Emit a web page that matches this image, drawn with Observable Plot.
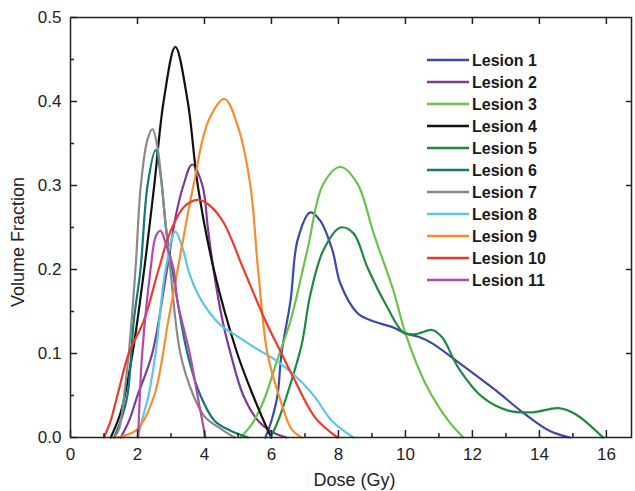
<!DOCTYPE html>
<html><head><meta charset="utf-8">
<script src="https://cdn.jsdelivr.net/npm/d3@7"></script>
<script src="https://cdn.jsdelivr.net/npm/@observablehq/plot@0.6"></script>
<style>
body{margin:0;background:#fff}
#wrap{position:relative;width:635px;height:491px;font-family:"Liberation Sans",Arial,sans-serif}
#wrap svg{position:absolute;left:0;top:0}
</style>
</head><body><div id="wrap"></div>
<script>
const lesionNames = ["Lesion 1","Lesion 2","Lesion 3","Lesion 4","Lesion 5","Lesion 6","Lesion 7","Lesion 8","Lesion 9","Lesion 10","Lesion 11"];
const lesionColors = ["#3b4aa8","#7e3a98","#6cc24a","#111111","#1f8a3e","#127878","#8a8a8a","#5cc6e4","#f68d2e","#ec3b2b","#b34aa9"];

const lesion1 = [[5.82,0],[6.0,0.02],[6.18,0.05],[6.3,0.1],[6.57,0.163],[6.78,0.235],[7.16,0.268],[7.46,0.258],[7.82,0.223],[8.06,0.183],[8.57,0.148],[9.0,0.139],[9.64,0.131],[10.0,0.124],[10.45,0.119],[10.8,0.112],[11.7,0.086],[12.7,0.056],[13.5,0.03],[14.3,0.008],[14.9,0]];
const lesion2 = [[1.5,0],[1.75,0.02],[2.0,0.05],[2.44,0.1],[2.88,0.2],[3.15,0.265],[3.37,0.3],[3.63,0.325],[3.94,0.3],[4.1,0.25],[4.27,0.2],[4.54,0.139],[4.78,0.1],[5.16,0.05],[5.6,0.02],[6.0,0.007],[6.45,0]];
const lesion3 = [[5.07,0],[5.4,0.015],[5.77,0.044],[6.17,0.092],[6.57,0.139],[7.07,0.223],[7.55,0.302],[8.06,0.322],[8.57,0.302],[9.05,0.243],[9.64,0.175],[10.0,0.124],[10.6,0.064],[11.28,0.02],[11.73,0]];
const lesion4 = [[1.2,0],[1.5,0.03],[1.85,0.1],[2.2,0.2],[2.5,0.3],[2.78,0.4],[3.13,0.465],[3.5,0.4],[3.8,0.3],[4.28,0.2],[4.98,0.1],[5.45,0.05],[5.9,0.008],[6.0,0]];
const lesion5 = [[5.97,0],[6.2,0.02],[6.57,0.064],[6.9,0.11],[7.16,0.17],[7.55,0.223],[8.06,0.25],[8.45,0.243],[8.87,0.202],[9.46,0.155],[9.94,0.125],[10.3,0.123],[10.8,0.128],[11.1,0.119],[11.58,0.083],[12.3,0.048],[13.07,0.032],[13.8,0.03],[14.57,0.035],[15.07,0.028],[15.9,0]];
const lesion6 = [[1.3,0],[1.5,0.02],[1.7,0.05],[1.89,0.139],[2.09,0.2],[2.3,0.3],[2.54,0.342],[2.7,0.31],[2.85,0.25],[3.04,0.2],[3.49,0.1],[3.88,0.05],[4.3,0.02],[4.78,0.008],[5.3,0]];
const lesion7 = [[1.3,0],[1.45,0.01],[1.6,0.05],[1.74,0.1],[1.94,0.2],[2.1,0.3],[2.3,0.355],[2.45,0.367],[2.6,0.345],[2.75,0.29],[2.98,0.2],[3.28,0.1],[3.67,0.05],[4.0,0.025],[4.5,0.01],[4.9,0]];
const lesion8 = [[2.0,0],[2.2,0.03],[2.33,0.05],[2.54,0.1],[2.84,0.2],[3.13,0.245],[3.35,0.225],[3.55,0.195],[3.88,0.165],[4.45,0.135],[5.0,0.12],[5.5,0.107],[6.2,0.09],[6.9,0.066],[7.3,0.048],[7.8,0.02],[8.45,0]];
const lesion9 = [[1.4,0],[2.0,0.01],[2.5,0.05],[2.92,0.139],[3.2,0.2],[3.67,0.3],[4.12,0.377],[4.6,0.403],[5.0,0.37],[5.37,0.3],[5.6,0.2],[5.88,0.1],[6.27,0.044],[6.6,0.01],[6.9,0]];
const lesion10 = [[1.0,0],[1.2,0.02],[1.4,0.05],[1.74,0.1],[2.19,0.139],[2.63,0.2],[2.99,0.246],[3.4,0.275],[3.79,0.283],[4.1,0.278],[4.54,0.258],[5.17,0.2],[5.82,0.139],[6.3,0.1],[6.66,0.071],[7.3,0.024],[7.97,0]];
const lesion11 = [[2.02,0],[2.07,0.05],[2.14,0.1],[2.39,0.2],[2.55,0.24],[2.69,0.246],[2.85,0.23],[3.08,0.2],[3.19,0.163],[3.56,0.1],[3.82,0.044],[4.03,0]];

const lesionSeries = [lesion1,lesion2,lesion3,lesion4,lesion5,lesion6,lesion7,lesion8,lesion9,lesion10,lesion11];

const xMajorTicks = [0,2,4,6,8,10,12,14,16];
const xMinorTicks = [1,3,5,7,9,11,13,15];
const yMajorTicks = [0,0.1,0.2,0.3,0.4,0.5];
const yMinorTicks = [0.05,0.15,0.25,0.35,0.45];
const xLabel = "Dose (Gy)";
const yLabel = "Volume Fraction";

const rows = lesionSeries.flatMap((s, i) => s.map(([dose, frac]) => ({lesion: lesionNames[i], dose, frac})));

const W = 635, H = 491, mL = 70, mR = 4, mT = 17, mB = 54;
const pw = W - mL - mR, ph = H - mT - mB;
const ink = "#222";
const font = '"Liberation Sans", Arial, sans-serif';

const chart = Plot.plot({
  width: W, height: H,
  marginLeft: mL, marginRight: mR, marginTop: mT, marginBottom: mB,
  x: {domain: [0, 16.75]},
  y: {domain: [0, 0.5]},
  color: {domain: lesionNames, range: lesionColors},
  style: {fontFamily: font, fontSize: "17px", color: ink, background: "#fff"},
  marks: [
    Plot.line(rows, {x: "dose", y: "frac", z: "lesion", stroke: "lesion", strokeWidth: 2.2, curve: "catmull-rom"}),
    Plot.frame({stroke: ink, strokeWidth: 1.5}),
    Plot.tickX(xMajorTicks, {x: d => d, insetTop: ph - 7, stroke: ink, strokeWidth: 1.5}),
    Plot.tickX(xMinorTicks, {x: d => d, insetTop: ph - 4, stroke: ink, strokeWidth: 1.5}),
    Plot.tickX(xMajorTicks.slice(1), {x: d => d, insetBottom: ph - 7, stroke: ink, strokeWidth: 1.5}),
    Plot.tickY(yMajorTicks, {y: d => d, insetRight: pw - 7, stroke: ink, strokeWidth: 1.5}),
    Plot.tickY(yMinorTicks, {y: d => d, insetRight: pw - 4, stroke: ink, strokeWidth: 1.5}),
    Plot.tickY(yMajorTicks.slice(1, -1), {y: d => d, insetLeft: pw - 5, stroke: ink, strokeWidth: 1.5}),
    Plot.axisX({ticks: xMajorTicks, tickSize: 0, tickPadding: 10, label: null, fontSize: 17, tickFormat: d => String(d)}),
    Plot.axisY({ticks: yMajorTicks, tickSize: 0, tickPadding: 9, label: null, fontSize: 17, tickFormat: d3.format(".1f")})
  ]
});
const wrap = document.getElementById("wrap");
wrap.appendChild(chart);

// overlay: axis titles and legend
const ov = d3.select(wrap).append("svg").attr("width", W).attr("height", H)
  .style("pointer-events", "none").attr("font-family", font);
ov.append("text").attr("x", mL + pw / 2 + 4).attr("y", 486)
  .attr("text-anchor", "middle").attr("font-size", 18).attr("fill", ink).text(xLabel);
ov.append("text").attr("transform", "translate(24,242) rotate(-90)")
  .attr("text-anchor", "middle").attr("font-size", 18).attr("fill", ink).text(yLabel);

const rowsG = ov.selectAll("g.leg").data(lesionNames).join("g").attr("class", "leg")
  .attr("transform", (d, i) => `translate(0,${60 + 22 * i})`);
rowsG.append("line").attr("x1", 427).attr("x2", 469).attr("y1", 0).attr("y2", 0)
  .attr("stroke", (d, i) => lesionColors[i]).attr("stroke-width", 2.5);
rowsG.append("text").attr("x", 472).attr("y", 0).attr("dy", "0.36em")
  .attr("font-weight", "bold").attr("font-size", 16).attr("fill", "#1a1a1a").text(d => d);
</script>
</body></html>
